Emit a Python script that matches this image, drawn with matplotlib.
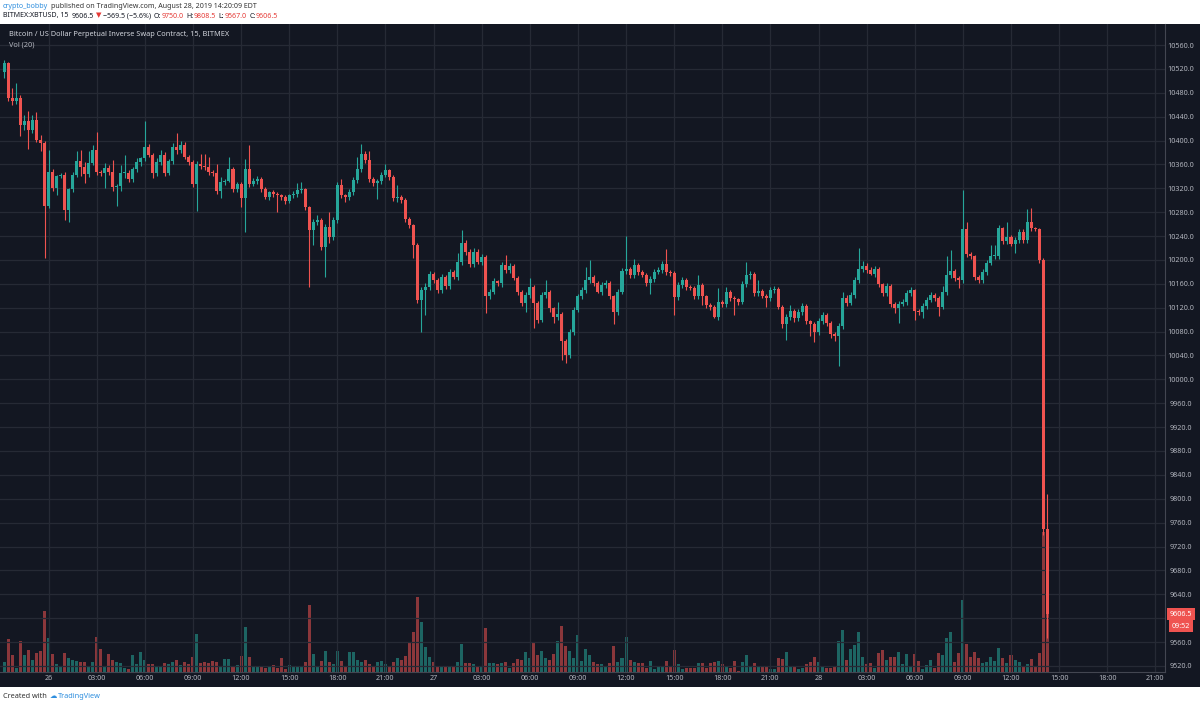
import matplotlib
matplotlib.use("Agg")
import matplotlib.pyplot as plt
from matplotlib.patches import Rectangle
import matplotlib.transforms as mtransforms
import numpy as np

W, H = 1200, 707
FONT = ["Noto Sans", "DejaVu Sans"]
plt.rcParams["font.family"] = FONT

BG = "#131722"
GRID = "#262a35"
UP = "#26a69a"
DOWN = "#ef5350"
AXIS_TXT = "#b2b5be"

# 15 min bars, index 0 = Aug 26 00:00, first bar is Aug 25 21:15
FIRST_BAR = -11
FIRST_OPEN = 10515
CLOSES = [
    10530, 10471, 10466, 10472, 10426, 10432, 10418, 10435, 10401, 10396,
    10290, 10348, 10320, 10340, 10342, 10284, 10318, 10343, 10365, 10355,
    10344, 10362, 10384, 10348, 10346, 10354, 10348, 10323, 10324, 10345,
    10346, 10335, 10352, 10364, 10370, 10390, 10376, 10346, 10364, 10376,
    10346, 10365, 10390, 10384, 10392, 10372, 10364, 10328, 10361, 10357,
    10356, 10347, 10345, 10316, 10330, 10333, 10353, 10319, 10328, 10303,
    10353, 10328, 10333, 10336, 10319, 10305, 10314, 10311, 10308, 10305,
    10299, 10308, 10311, 10317, 10318, 10288, 10250, 10264, 10267, 10221,
    10256, 10239, 10267, 10325, 10308, 10305, 10313, 10334, 10353, 10377,
    10367, 10336, 10329, 10333, 10342, 10350, 10339, 10303, 10305, 10300,
    10269, 10258, 10225, 10133, 10150, 10155, 10176, 10166, 10150, 10171,
    10156, 10180, 10172, 10197, 10228, 10214, 10194, 10214, 10197, 10205,
    10139, 10147, 10164, 10161, 10191, 10183, 10190, 10170, 10147, 10128,
    10141, 10155, 10128, 10100, 10141, 10147, 10119, 10105, 10109, 10065,
    10041, 10080, 10116, 10139, 10150, 10166, 10172, 10161, 10147, 10158,
    10162, 10139, 10112, 10147, 10181, 10185, 10175, 10192, 10180, 10175,
    10161, 10168, 10180, 10183, 10194, 10180, 10178, 10138, 10158, 10166,
    10155, 10153, 10140, 10158, 10139, 10125, 10121, 10105, 10130, 10127,
    10147, 10136, 10134, 10130, 10160, 10174, 10177, 10145, 10148, 10140,
    10136, 10150, 10151, 10121, 10093, 10105, 10114, 10102, 10113, 10123,
    10097, 10093, 10080, 10097, 10108, 10094, 10076, 10073, 10090, 10136,
    10128, 10142, 10167, 10185, 10190, 10183, 10177, 10185, 10159, 10145,
    10157, 10127, 10120, 10127, 10129, 10145, 10149, 10114, 10113, 10123,
    10133, 10142, 10136, 10122, 10147, 10175, 10181, 10170, 10167, 10252,
    10210, 10206, 10171, 10167, 10179, 10195, 10206, 10207, 10253, 10231,
    10239, 10227, 10233, 10247, 10234, 10263, 10253, 10251, 10200, 9750,
    9606.5,
]
UPPER_WICK = [
    5, 2, 17, 24, 5, 10, 18, 8, 12, 9,
    3, 36, 5, 2, 3, 5, 3, 5, 17, 19,
    9, 20, 9, 31, 3, 8, 5, 20, 3, 14,
    30, 5, 4, 6, 3, 42, 5, 3, 6, 8,
    5, 4, 6, 22, 8, 5, 3, 3, 5, 17,
    21, 16, 3, 16, 9, 3, 19, 3, 3, 3,
    16, 39, 5, 4, 3, 3, 2, 3, 3, 2,
    3, 3, 5, 12, 12, 3, 3, 5, 8, 3,
    5, 24, 5, 5, 11, 3, 5, 5, 19, 17,
    5, 16, 3, 3, 5, 11, 3, 3, 20, 3,
    3, 3, 3, 3, 5, 6, 5, 3, 3, 5,
    3, 5, 3, 14, 22, 5, 4, 6, 5, 5,
    3, 5, 5, 3, 5, 17, 5, 3, 3, 3,
    5, 14, 3, 3, 5, 19, 3, 3, 20, 3,
    3, 5, 5, 4, 5, 23, 28, 3, 3, 5,
    5, 3, 3, 5, 5, 55, 3, 9, 3, 3,
    3, 5, 4, 5, 5, 25, 3, 3, 5, 5,
    3, 3, 3, 17, 3, 3, 3, 3, 23, 3,
    8, 3, 3, 3, 5, 23, 5, 3, 19, 3,
    3, 5, 5, 3, 3, 5, 11, 3, 5, 5,
    3, 3, 3, 5, 5, 3, 3, 3, 5, 10,
    5, 5, 5, 35, 8, 5, 5, 5, 3, 3,
    5, 3, 3, 5, 5, 5, 6, 3, 3, 5,
    5, 5, 3, 3, 9, 32, 36, 3, 3, 65,
    11, 3, 3, 3, 5, 5, 19, 18, 5, 3,
    25, 3, 5, 5, 5, 23, 24, 3, 3, 3,
    58.5,
]
LOWER_WICK = [
    10, 5, 6, 5, 18, 8, 33, 5, 4, 14,
    86, 3, 5, 11, 3, 17, 20, 5, 4, 15,
    15, 5, 3, 5, 6, 26, 5, 8, 33, 9,
    8, 5, 4, 5, 6, 5, 3, 9, 5, 5,
    5, 4, 5, 6, 5, 3, 5, 6, 46, 5,
    5, 4, 5, 5, 13, 5, 3, 5, 6, 14,
    56, 5, 4, 5, 5, 3, 5, 5, 28, 5,
    5, 4, 5, 6, 5, 5, 96, 25, 5, 5,
    49, 11, 5, 5, 5, 8, 5, 4, 5, 5,
    5, 6, 5, 27, 5, 3, 5, 5, 6, 5,
    5, 5, 22, 5, 53, 42, 5, 4, 5, 6,
    5, 5, 4, 5, 5, 6, 5, 5, 3, 5,
    28, 5, 4, 5, 6, 5, 5, 3, 5, 5,
    15, 5, 42, 5, 4, 5, 6, 11, 5, 32,
    14, 5, 5, 4, 5, 6, 5, 5, 3, 5,
    5, 5, 19, 5, 4, 5, 6, 5, 5, 3,
    5, 18, 5, 4, 5, 6, 5, 30, 5, 5,
    5, 4, 5, 6, 14, 5, 5, 3, 5, 5,
    5, 5, 26, 5, 4, 5, 6, 5, 5, 3,
    15, 5, 5, 4, 7, 27, 5, 6, 5, 5,
    5, 21, 18, 5, 4, 5, 6, 8, 51, 5,
    5, 4, 5, 6, 5, 5, 3, 5, 5, 5,
    5, 5, 9, 25, 4, 5, 6, 14, 5, 10,
    5, 4, 5, 16, 5, 6, 5, 5, 14, 5,
    5, 4, 5, 6, 5, 5, 3, 5, 6, 5,
    5, 4, 15, 5, 6, 5, 5, 3, 5, 10,
    39.5,
]
# relative volume (volume pane height units)
VOLUME = [
    10, 33, 17, 4, 31, 17, 22, 12, 19, 21,
    61, 34, 18, 8, 5, 19, 14, 12, 11, 10,
    10, 6, 10, 35, 23, 5, 18, 12, 10, 9,
    4, 3, 17, 8, 20, 12, 8, 8, 6, 5,
    9, 8, 10, 12, 7, 10, 8, 15, 38, 9,
    10, 9, 11, 10, 6, 13, 13, 6, 7, 16,
    45, 15, 5, 5, 5, 4, 6, 7, 4, 14,
    3, 7, 5, 6, 5, 10, 67, 18, 5, 11,
    21, 10, 8, 21, 11, 6, 20, 20, 12, 10,
    12, 8, 6, 10, 11, 8, 6, 10, 14, 12,
    16, 30, 40, 75, 50, 25, 15, 10, 6, 5,
    5, 5, 5, 10, 28, 9, 9, 8, 5, 5,
    44, 9, 9, 8, 9, 10, 4, 9, 13, 12,
    20, 14, 29, 17, 21, 14, 12, 18, 31, 46,
    26, 21, 14, 37, 11, 23, 17, 10, 8, 8,
    5, 9, 26, 10, 14, 35, 12, 10, 9, 9,
    4, 11, 3, 6, 5, 11, 5, 22, 8, 3,
    4, 4, 4, 9, 9, 4, 9, 10, 11, 8,
    5, 4, 11, 1, 10, 17, 5, 9, 5, 6,
    6, 3, 3, 14, 13, 20, 5, 6, 3, 4,
    8, 10, 15, 10, 6, 4, 4, 5, 31, 42,
    12, 23, 27, 40, 15, 8, 9, 4, 19, 22,
    12, 15, 15, 20, 8, 18, 5, 18, 11, 3,
    7, 12, 4, 19, 17, 34, 40, 10, 19, 72,
    28, 15, 20, 14, 9, 10, 15, 11, 24, 14,
    9, 17, 12, 10, 5, 8, 13, 6, 19, 140,
    100,
]

PRICE_TICKS = [9520, 9560, 9600, 9640, 9680, 9720, 9760, 9800, 9840, 9880,
               9920, 9960, 10000, 10040, 10080, 10120, 10160, 10200, 10240,
               10280, 10320, 10360, 10400, 10440, 10480, 10520, 10560]
TIME_TICKS = list(range(0, 277, 12))
TIME_LABELS = ["26", "03:00", "06:00", "09:00", "12:00", "15:00", "18:00", "21:00",
               "27", "03:00", "06:00", "09:00", "12:00", "15:00", "18:00", "21:00",
               "28", "03:00", "06:00", "09:00", "12:00", "15:00", "18:00", "21:00"]
COUNTDOWN = "09:52"


def fx(px):
    return px / W


def fy(py):
    return 1 - py / H


fig = plt.figure(figsize=(W / 100, H / 100), dpi=100)
fig.patch.set_facecolor("white")
fig.patches.append(Rectangle((0, fy(687)), 1, fy(24) - fy(687), transform=fig.transFigure,
                             facecolor=BG, edgecolor="none", zorder=-1))

rect = [0, fy(672), fx(1165), fy(24) - fy(672)]
axv = fig.add_axes(rect, zorder=1)
ax = fig.add_axes(rect, zorder=2)
for a in (ax, axv):
    a.patch.set_alpha(0)
    a.set_xlim(-12.1, 278.4)
axv.set_ylim(0, 648)
axv.axis("off")
ax.set_ylim(9509.8, 10595.2)

x = np.arange(FIRST_BAR, FIRST_BAR + len(CLOSES))
closes = np.array(CLOSES, dtype=float)
opens = np.concatenate([[FIRST_OPEN], closes[:-1]])
tops = np.maximum(opens, closes)
bots = np.minimum(opens, closes)
highs = tops + np.array(UPPER_WICK)
lows = bots - np.array(LOWER_WICK)
is_up = closes >= opens
colors = np.where(is_up, UP, DOWN)

# grid
for p in PRICE_TICKS:
    ax.axhline(p, color=GRID, lw=0.9, zorder=0)
for t in TIME_TICKS:
    ax.axvline(t, color=GRID, lw=0.9, zorder=0)

# volume
axv.bar(x, VOLUME, width=0.75, color=colors, alpha=0.55, linewidth=0)

# candles
ax.vlines(x, lows, highs, colors=colors, linewidth=0.8, zorder=2)
ax.bar(x, np.maximum(tops - bots, 1.5), bottom=bots, width=0.75, color=colors,
       linewidth=0, zorder=3)

# axes styling
for side in ("top", "left"):
    ax.spines[side].set_visible(False)
for side in ("right", "bottom"):
    ax.spines[side].set_color("#434651")
    ax.spines[side].set_linewidth(0.8)

ax.yaxis.tick_right()
ax.set_yticks(PRICE_TICKS, [f"{p:.1f}" for p in PRICE_TICKS])
ax.tick_params(axis="y", length=0, pad=11.5, labelsize=5.2, labelcolor=AXIS_TXT)
for lab in ax.get_yticklabels():
    lab.set_horizontalalignment("center")
ax.set_xticks(TIME_TICKS, TIME_LABELS)
ax.tick_params(axis="x", length=0, pad=2.5, labelsize=5.2, labelcolor=AXIS_TXT)

# last price tag on the price scale
trans = mtransforms.blended_transform_factory(ax.transAxes, ax.transData)
ax.text(1 + 16 / 1165, closes[-1], f"{closes[-1]:.1f}", transform=trans, ha="center",
        va="center", fontsize=5.2, color="white", clip_on=False,
        bbox=dict(boxstyle="square,pad=0.35", facecolor=DOWN, edgecolor="none"))
ax.annotate(COUNTDOWN, xy=(1 + 16 / 1165, closes[-1]), xycoords=trans,
            xytext=(0, -8.5), textcoords="offset points", ha="center", va="center",
            fontsize=5.2, color="white", annotation_clip=False,
            bbox=dict(boxstyle="square,pad=0.35", facecolor=DOWN, edgecolor="none"))

# chart legend
ax.text(9 / 1165, 1 - 10 / 648, "Bitcoin / US Dollar Perpetual Inverse Swap Contract, 15, BITMEX",
        transform=ax.transAxes, fontsize=5.3, color="#d1d4dc", va="center", ha="left")
ax.text(9 / 1165, 1 - 21 / 648, "Vol (20)", transform=ax.transAxes, fontsize=5.3,
        color="#b2b5be", va="center", ha="left")

renderer = fig.canvas.get_renderer()


def text_runs(x0, y0, runs, size=5.1):
    xpos = x0
    for s, color, weight, gap in runs:
        t = fig.text(fx(xpos), fy(y0), s, color=color, fontsize=size, fontweight=weight,
                     ha="left", va="center")
        xpos += t.get_window_extent(renderer=renderer).width + gap


text_runs(3, 6, [("crypto_bobby", "#2e8ede", "normal", 2.5),
                 ("published on TradingView.com, August 28, 2019 14:20:09 EDT", "#333333", "normal", 0)])
text_runs(3, 16, [("BITMEX:XBTUSD, 15", "#131722", "bold", 3),
                  ("9606.5", "#131722", "normal", 2),
                  ("\u25BC", "#e53935", "normal", 2),
                  ("\u2212569.5 (\u22125.6%)", "#131722", "normal", 2.5),
                  ("O:", "#131722", "bold", 0.5),
                  ("9750.0", "#e53935", "normal", 2.5),
                  ("H:", "#131722", "bold", 0.5),
                  ("9808.5", "#e53935", "normal", 2.5),
                  ("L:", "#131722", "bold", 0.5),
                  ("9567.0", "#e53935", "normal", 2.5),
                  ("C:", "#131722", "bold", 0.5),
                  ("9606.5", "#e53935", "normal", 0)])
text_runs(3, 697, [("Created with", "#333333", "normal", 3),
                   ("\u2601", "#2e8ede", "normal", 1),
                   ("TradingView", "#2e8ede", "normal", 0)], size=5.3)

fig.savefig("out.png", dpi=100, facecolor="white")
